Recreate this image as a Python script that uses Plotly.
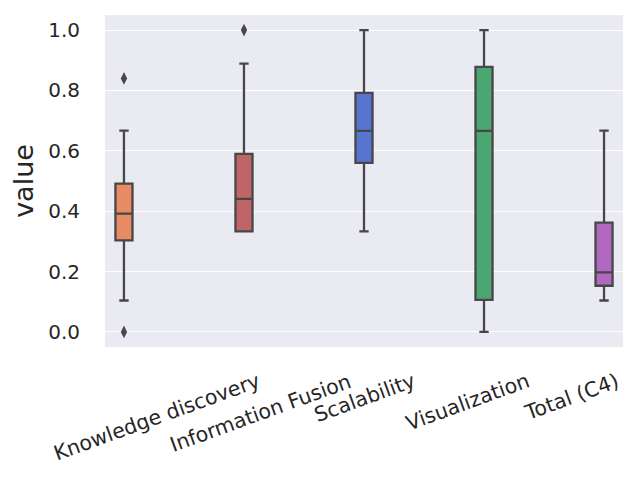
import plotly.graph_objects as go

categories = ["Knowledge discovery", "Information Fusion", "Scalability", "Visualization", "Total (C4)"]
q1 = [0.303, 0.333, 0.560, 0.106, 0.153]
median = [0.392, 0.441, 0.666, 0.666, 0.197]
q3 = [0.491, 0.590, 0.792, 0.878, 0.362]
lowerfence = [0.104, 0.333, 0.333, 0.0, 0.104]
upperfence = [0.667, 0.889, 1.0, 1.0, 0.667]
outlier_cat = [0, 0, 1]
outlier_val = [0.84, 0.0, 1.0]
colors = ["#E88A64", "#BF6567", "#5874D1", "#4BA672", "#B068C0"]
yticks = [0.0, 0.2, 0.4, 0.6, 0.8, 1.0]

line_col = "#474747"
text_col = "#262626"
font = "DejaVu Sans"

fig = go.Figure()
for i, c in enumerate(categories):
    fig.add_trace(go.Box(
        x=[i], q1=[q1[i]], median=[median[i]], q3=[q3[i]],
        lowerfence=[lowerfence[i]], upperfence=[upperfence[i]],
        width=0.142, whiskerwidth=0.55,
        fillcolor=colors[i], line=dict(color=line_col, width=2.3),
        boxpoints=False, showlegend=False, name=c,
    ))

fig.add_trace(go.Scatter(
    x=outlier_cat, y=outlier_val, mode="markers",
    marker=dict(symbol="diamond-tall", size=9, color=line_col,
                line=dict(width=0)),
    showlegend=False, hoverinfo="skip",
))

xmin, xmax = -0.158, 4.158
n = len(categories)
step = (xmax - xmin) / n
for k, c in enumerate(categories):
    fig.add_annotation(
        x=xmin + step * (k + 0.5), y=0, xref="x", yref="paper",
        yanchor="top", xanchor="center", yshift=-19,
        text=c, textangle=-20, showarrow=False,
        font=dict(family=font, size=20.5, color=text_col),
    )

fig.update_layout(
    width=632, height=472,
    margin=dict(l=97, r=17, t=7, b=133),
    paper_bgcolor="white", plot_bgcolor="#EAEAF2",
    font=dict(family=font, color=text_col),
    xaxis=dict(range=[xmin, xmax], showgrid=False, zeroline=False,
               showticklabels=False, ticks=""),
    yaxis=dict(range=[-0.05, 1.05], tickvals=yticks, tickformat=".1f",
               showgrid=True, gridcolor="white", gridwidth=1,
               zeroline=False, ticks="", ticklabelstandoff=24,
               tickfont=dict(family=font, size=20, color=text_col),
               title=dict(text="value", font=dict(family=font, size=27, color=text_col),
                          standoff=8)),
)

fig.write_html("out.html")
